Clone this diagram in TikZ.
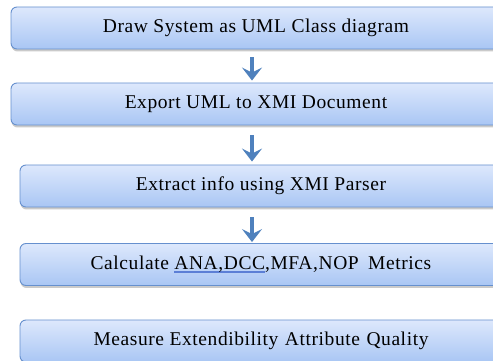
\documentclass[tikz,border=0pt]{standalone}
\usepackage{fontspec}
\setmainfont{Liberation Serif}[LetterSpace=3]
\usetikzlibrary{arrows.meta,shadows}
\definecolor{boxtop}{HTML}{DDE8FC}
\definecolor{boxbot}{HTML}{A9C6F4}
\definecolor{boxline}{HTML}{6690CE}
\definecolor{arrowblue}{HTML}{4F81BD}
\definecolor{ulblue}{HTML}{5C7FD6}
\newcommand\blueul[1]{\setbox0=\hbox{#1}\rlap{\color{ulblue}\rule[-2.8pt]{\wd0}{1.4pt}}\box0}
\tikzset{
  stepbox/.style={draw=boxline, line width=0.9pt, rounded corners=6pt,
    top color=boxtop, bottom color=boxbot, minimum height=42pt,
    inner sep=0pt, font=\fontsize{19.5}{22}\selectfont, text=black,
    drop shadow={shadow xshift=0.5pt, shadow yshift=-2.5pt, opacity=0.35, fill=black!60}},
  flowarrow/.style={draw=arrowblue, line width=4.5pt,
    -{Stealth[width=20pt,length=13pt,inset=5pt]}}
}
\begin{document}
\begin{tikzpicture}[x=1pt,y=1pt]
\useasboundingbox (0,0) rectangle (493,361);
\clip (0,0) rectangle (493,361);
\node[stepbox, minimum width=490pt] (b1) at (256,333) {Draw System as UML Class diagram};
\node[stepbox, minimum width=490pt] (b2) at (256,257) {Export UML to XMI Document};
\node[stepbox, minimum width=482pt] (b3) at (261,175) {Extract info using XMI Parser};
\node[stepbox, minimum width=482pt] (b4) at (261,96.5) {Calculate \blueul{ANA,DCC},MFA,NOP \hspace{4pt}Metrics};
\node[stepbox, minimum width=482pt] (b5) at (261,20) {Measure Extendibility \hspace{1pt}Attribute \hspace{1pt}Quality};
\coordinate (ax) at (252,0);
\draw[flowarrow, shorten <=8pt, shorten >=2pt] (b1.south -| ax) -- (b2.north -| ax);
\draw[flowarrow, shorten <=10pt, shorten >=3pt] (b2.south -| ax) -- (b3.north -| ax);
\draw[flowarrow, shorten <=10pt, shorten >=1pt] (b3.south -| ax) -- (b4.north -| ax);
\end{tikzpicture}
\end{document}
